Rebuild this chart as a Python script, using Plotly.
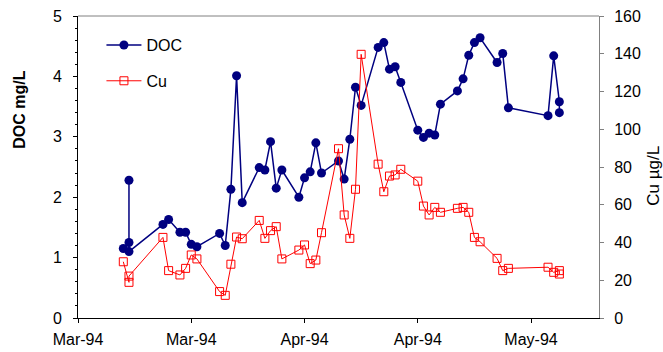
import plotly.graph_objects as go

# ---- data ----
dates = [
    "1994-03-09", "1994-03-10", "1994-03-10", "1994-03-10",
    "1994-03-16", "1994-03-17", "1994-03-19", "1994-03-20", "1994-03-21", "1994-03-22",
    "1994-03-26", "1994-03-27", "1994-03-28", "1994-03-29", "1994-03-30",
    "1994-04-02", "1994-04-03", "1994-04-04", "1994-04-05", "1994-04-06",
    "1994-04-09", "1994-04-10", "1994-04-11", "1994-04-12", "1994-04-13",
    "1994-04-16", "1994-04-17", "1994-04-18", "1994-04-19", "1994-04-20",
    "1994-04-23", "1994-04-24", "1994-04-25", "1994-04-26", "1994-04-27",
    "1994-04-30", "1994-05-01", "1994-05-02", "1994-05-03", "1994-05-04",
    "1994-05-07", "1994-05-08", "1994-05-09", "1994-05-10", "1994-05-11",
    "1994-05-14", "1994-05-15", "1994-05-16",
    "1994-05-23", "1994-05-24", "1994-05-25", "1994-05-25",
]
doc = [
    1.15, 1.25, 2.28, 1.10,
    1.55, 1.63, 1.42, 1.42, 1.22, 1.18,
    1.40, 1.20, 2.13, 4.01, 1.91,
    2.49, 2.45, 2.92, 2.15, 2.45,
    2.00, 2.32, 2.42, 2.90, 2.40,
    2.60, 2.30, 2.96, 3.82, 3.52,
    4.48, 4.56, 4.12, 4.16, 3.90,
    3.11, 2.99, 3.06, 3.03, 3.54,
    3.76, 3.96, 4.35, 4.56, 4.64,
    4.23, 4.38, 3.48,
    3.35, 4.34, 3.58, 3.40,
]
cu_dates = [
    "1994-03-09", "1994-03-10", "1994-03-10",
    "1994-03-16", "1994-03-17", "1994-03-19", "1994-03-20", "1994-03-21", "1994-03-22",
    "1994-03-26", "1994-03-27", "1994-03-28", "1994-03-29", "1994-03-30",
    "1994-04-02", "1994-04-03", "1994-04-04", "1994-04-05", "1994-04-06",
    "1994-04-09", "1994-04-10", "1994-04-11", "1994-04-12", "1994-04-13",
    "1994-04-16", "1994-04-17", "1994-04-18", "1994-04-19", "1994-04-20",
    "1994-04-23", "1994-04-24", "1994-04-25", "1994-04-26", "1994-04-27",
    "1994-04-30", "1994-05-01", "1994-05-02", "1994-05-03", "1994-05-04",
    "1994-05-07", "1994-05-08", "1994-05-09", "1994-05-10", "1994-05-11",
    "1994-05-14", "1994-05-15", "1994-05-16",
    "1994-05-23", "1994-05-24", "1994-05-25", "1994-05-25",
]
cu = [
    29.8, 18.9, 22.2,
    42.7, 25.1, 22.8, 26.3, 33.4, 31.3,
    14.0, 12.0, 28.5, 42.9, 42.0,
    51.7, 42.2, 46.3, 48.4, 31.3,
    36.0, 38.7, 28.8, 30.7, 45.2,
    89.7, 54.6, 42.2, 68.2, 139.7,
    81.5, 66.9, 75.2, 75.8, 78.8,
    72.5, 59.3, 54.6, 58.6, 56.0,
    58.1, 58.6, 56.0, 42.7, 40.4,
    31.6, 25.1, 26.3,
    26.9, 24.2, 25.1, 23.3,
]

FONT = "Liberation Sans, Arial, sans-serif"
NAVY = "#000080"
RED = "#FF0000"
GREY = "#808080"

fig = go.Figure()
fig.add_trace(go.Scatter(
    x=dates, y=doc, name="DOC", mode="lines+markers",
    line=dict(color=NAVY, width=1.5),
    marker=dict(symbol="circle", size=9, color=NAVY),
    legendgroup="a",
))
fig.add_trace(go.Scatter(
    x=cu_dates, y=cu, name="Cu", mode="lines+markers", yaxis="y2",
    line=dict(color=RED, width=1),
    marker=dict(symbol="square-open", size=8, color=RED, line=dict(width=1)),
    legendgroup="b",
))

fig.update_layout(
    width=663, height=352,
    margin=dict(l=78, r=64, t=16, b=34, autoexpand=False),
    paper_bgcolor="white", plot_bgcolor="white",
    font=dict(family=FONT, size=16, color="black"),
    showlegend=True,
    legend=dict(
        x=0.045, y=0.96, xanchor="left", yanchor="top",
        bgcolor="rgba(0,0,0,0)", font=dict(size=16),
        traceorder="grouped", tracegroupgap=12, itemwidth=35,
    ),
    xaxis=dict(
        type="date", range=["1994-03-01", "1994-06-01"],
        tick0="1994-03-01", dtick=20 * 86400000, tickformat="%b-%y",
        ticks="outside", ticklen=4, tickcolor="black",
        showline=True, linecolor="black", linewidth=1,
        showgrid=False, zeroline=False, automargin=False,
        ticklabelstandoff=3,
    ),
    yaxis=dict(
        range=[0, 5], dtick=1, tick0=0,
        ticks="outside", ticklen=4, tickcolor="black",
        minor=dict(dtick=0.2, ticks="outside", ticklen=2, tickcolor="black"),
        showline=True, linecolor="black", linewidth=1,
        showgrid=False, zeroline=False, automargin=False,
        ticklabelstandoff=8,
    ),
    yaxis2=dict(
        range=[0, 160], dtick=20, tick0=0, overlaying="y", side="right",
        ticks="outside", ticklen=4, tickcolor=GREY,
        showline=True, linecolor=GREY, linewidth=1,
        showgrid=False, zeroline=False, automargin=False,
        ticklabelstandoff=7,
    ),
    shapes=[dict(type="line", xref="paper", yref="paper", x0=0, x1=1, y0=1, y1=1,
                 line=dict(color=GREY, width=1))],
    annotations=[
        dict(text="<b>DOC mg/L</b>", textangle=-90, xref="paper", yref="paper",
             x=-0.113, y=0.69, xanchor="center", yanchor="middle", showarrow=False,
             font=dict(size=16)),
        dict(text="Cu µg/L", textangle=-90, xref="paper", yref="paper",
             x=1.103, y=0.47, xanchor="center", yanchor="middle", showarrow=False,
             font=dict(size=17)),
    ],
)

fig.write_html("out.html")
